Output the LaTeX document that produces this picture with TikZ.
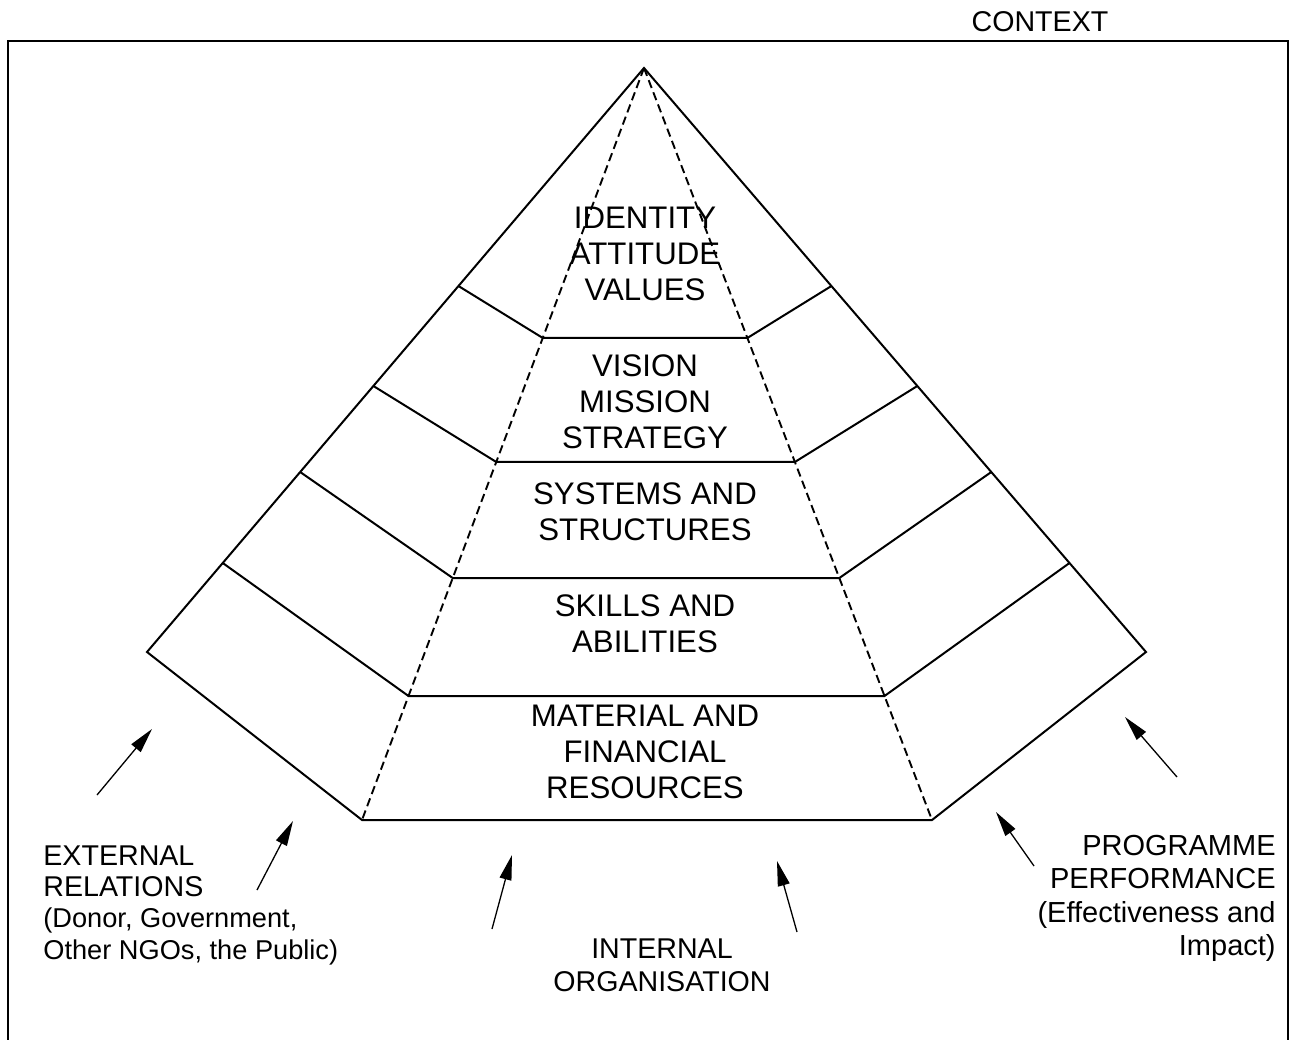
\documentclass[tikz,border=0pt]{standalone}
\usepackage{fontspec}
\setmainfont{Liberation Sans}
\usetikzlibrary{arrows.meta,calc}
\newcommand{\paren}{\fontsize{13.6}{15.7}\selectfont}
\begin{document}
\begin{tikzpicture}[x=0.5pt,y=-0.5pt,line join=miter,
  edge/.style={line width=1pt},
  hidden/.style={line width=0.95pt,dash pattern=on 4.2pt off 2.3pt},
  push/.style={line width=0.65pt,-{Triangle[length=12.5pt,width=6pt]}},
  pyr/.style={align=center,font=\fontsize{15.6}{18}\selectfont,inner sep=0pt},
  lab/.style={font=\fontsize{14.3}{15.7}\selectfont,inner sep=0pt}]
\useasboundingbox (0,0) rectangle (1292,1040);

% context frame
\draw[edge] (8,1040) -- (8,41) -- (1288,41) -- (1288,1040);
\node[lab] (ctx) at (1040,22) {CONTEXT};

% main points
\coordinate (A) at (644,68);
\coordinate (L) at (147,652);
\coordinate (R) at (1146,652);
\coordinate (BL) at (362,820);
\coordinate (BR) at (932,820);

% outer outline
\draw[edge] (BL) -- (L) -- (A) -- (R) -- (BR) -- cycle;
% hidden edges
\draw[hidden] (A) -- (BL);
\draw[hidden] (A) -- (BR);

% levels: t on dashed edges, s on outer edges
\foreach \t/\s [count=\i] in {0.3590/0.3733, 0.5239/0.5445, 0.6782/0.6918, 0.8351/0.8476}{
  \coordinate (dl\i) at ($(A)!\t!(BL)$);
  \coordinate (dr\i) at ($(A)!\t!(BR)$);
  \coordinate (ol\i) at ($(A)!\s!(L)$);
  \coordinate (or\i) at ($(A)!\s!(R)$);
  \draw[edge] (ol\i) -- (dl\i) -- (dr\i) -- (or\i);
}

% pyramid labels
\node[pyr] (id)  at (645,254) {IDENTITY\\ATTITUDE\\VALUES};
\node[pyr] (vis) at (645,402) {VISION\\MISSION\\STRATEGY};
\node[pyr] (sys) at (645,512) {SYSTEMS AND\\STRUCTURES};
\node[pyr] (ski) at (645,624) {SKILLS AND\\ABILITIES};
\node[pyr] (mat) at (645,752) {MATERIAL AND\\FINANCIAL\\RESOURCES};

% outside labels
\node[lab,align=left,anchor=north west] (ext) at (43,845)
  {EXTERNAL\\RELATIONS\\{\paren (Donor, Government,}\\{\paren Other NGOs, the Public)}};
\node[lab,align=center,anchor=north,font=\fontsize{14.3}{16.5}\selectfont] (int) at (662,938)
  {INTERNAL\\ORGANISATION};
\node[lab,align=right,anchor=north east,font=\fontsize{14.5}{16.6}\selectfont] (prg) at (1276,835)
  {PROGRAMME\\PERFORMANCE\\(Effectiveness and\\Impact)};

% arrows
\coordinate (a1s) at (97,795);   \coordinate (a1e) at (152,729);
\coordinate (a2s) at (257,890);  \coordinate (a2e) at (293,821);
\coordinate (a3s) at (492,929);  \coordinate (a3e) at (512,855);
\coordinate (a4s) at (797,932);  \coordinate (a4e) at (777,861);
\coordinate (a5s) at (1034,866); \coordinate (a5e) at (996,812);
\coordinate (a6s) at (1177,777); \coordinate (a6e) at (1125,717);
\foreach \i in {1,...,6}{\draw[push] (a\i s) -- (a\i e);}
\end{tikzpicture}
\end{document}
